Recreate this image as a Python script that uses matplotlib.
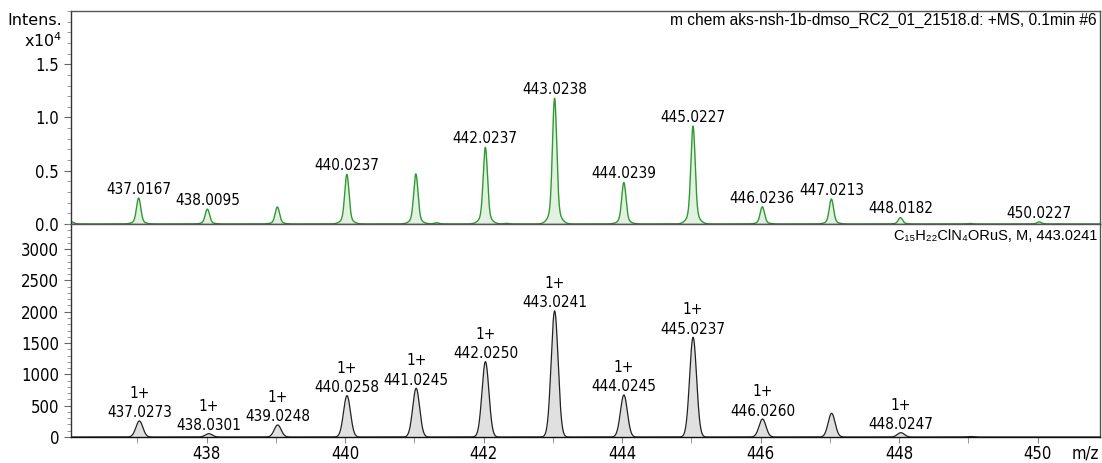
import numpy as np
import matplotlib
matplotlib.use("Agg")
import matplotlib.pyplot as plt
from matplotlib.ticker import MultipleLocator

## data ##

# measured spectrum (top, intensity in units of 1e4)
ms_mz = [436.05, 437.0167, 438.0095, 439.02, 440.0237, 441.02, 441.32, 442.0237,
         442.33, 443.0238, 444.0239, 445.0227, 446.0236, 447.0213, 448.0182,
         449.02, 450.0227]
ms_int = [0.02, 0.244, 0.14, 0.16, 0.466, 0.47, 0.012, 0.72,
          0.006, 1.18, 0.39, 0.92, 0.162, 0.234, 0.06,
          0.005, 0.02]
ms_labels = {437.0167: "437.0167", 438.0095: "438.0095", 440.0237: "440.0237",
             442.0237: "442.0237", 443.0238: "443.0238", 444.0239: "444.0239",
             445.0227: "445.0227", 446.0236: "446.0236", 447.0213: "447.0213",
             448.0182: "448.0182", 450.0227: "450.0227"}

# simulated isotope pattern (bottom)
sim_mz = [437.0273, 438.0301, 439.0248, 440.0258, 441.0245, 442.0250, 443.0241,
          444.0245, 445.0237, 446.0260, 447.0245, 448.0247, 449.02]
sim_int = [256, 53, 192, 660, 778, 1203, 2013, 671, 1592, 287, 378, 69, 8]
sim_labels = ["437.0273", "438.0301", "439.0248", "440.0258", "441.0245", "442.0250",
              "443.0241", "444.0245", "445.0237", "446.0260", None, "448.0247", None]

title_top = "m chem aks-nsh-1b-dmso_RC2_01_21518.d: +MS, 0.1min #6"
title_bot = "C\u2081\u2085H\u2082\u2082ClN\u2084ORuS, M, 443.0241"

xmin, xmax = 436.04, 450.9
x = np.arange(xmin, xmax, 0.002)

def profile(centers, heights, sig, tail=0.0, tsig=0.1):
    y = np.zeros_like(x)
    for c, h in zip(centers, heights):
        d = (x - c) ** 2
        y += h * ((1 - tail) * np.exp(-d / (2 * sig ** 2)) + tail * np.exp(-d / (2 * tsig ** 2)))
    return y

y_top = profile(ms_mz, ms_int, 0.03, tail=0.12, tsig=0.075)
y_bot = profile(sim_mz, sim_int, 0.05)

tickfont = dict(family=["DejaVu Sans"], stretch="condensed", size=12)
labfont = dict(family=["DejaVu Sans"], stretch="condensed", size=11)
edge = "#555555"

fig = plt.figure(figsize=(11.02, 4.63), dpi=100)
ax1 = fig.add_axes([71 / 1102, 1 - 224 / 463, 1029 / 1102, 213 / 463])
ax2 = fig.add_axes([71 / 1102, 1 - 437 / 463, 1029 / 1102, 213 / 463])

for ax in (ax1, ax2):
    ax.set_xlim(xmin, xmax)
    for s in ax.spines.values():
        s.set_color(edge)
        s.set_linewidth(1.0)
    ax.spines["bottom"].set_color("#111111")
    ax.spines["left"].set_color("#333333")
    ax.tick_params(axis="y", which="major", length=5, color="#666666", labelsize=12)
    ax.tick_params(axis="y", which="minor", length=3, color="#888888")

# top panel: measured
ax1.fill_between(x, 0, y_top, color="#e2f1e2", lw=0)
ax1.plot(x, y_top, color="#2f9a2f", lw=1.0)
ax1.set_ylim(0, 2.0)
ax1.set_yticks([0.0, 0.5, 1.0, 1.5])
ax1.set_yticklabels(["0.0", "0.5", "1.0", "1.5"], fontdict=tickfont)
ax1.yaxis.set_minor_locator(MultipleLocator(0.1))
ax1.set_xticks([])
for c, txt in ms_labels.items():
    h = ms_int[ms_mz.index(c)]
    ax1.annotate(txt, (c, h), xytext=(0, 3), textcoords="offset points",
                 ha="center", va="baseline", **labfont)
ax1.text(0.997, 0.993, title_top, transform=ax1.transAxes, ha="right", va="top",
         family=["Liberation Sans", "DejaVu Sans"], size=11.2)
fig.text(62 / 1102, 1 - 25 / 463, "Intens.", ha="right", va="baseline",
         family="DejaVu Sans", size=11.5)
fig.text(62 / 1102, 1 - 47 / 463, "x10$^4$", ha="right", va="baseline",
         family="DejaVu Sans", size=11.5)

# bottom panel: simulated
ax2.fill_between(x, 0, y_bot, color="#e0e0e0", lw=0)
ax2.plot(x, y_bot, color="#222222", lw=0.9)
ax2.set_ylim(0, 3400)
ax2.set_yticks(np.arange(0, 3001, 500))
ax2.set_yticklabels([str(v) for v in range(0, 3001, 500)], fontdict=tickfont)
ax2.yaxis.set_minor_locator(MultipleLocator(100))
ax2.set_xticks(np.arange(438, 451, 2))
ax2.set_xticklabels([str(v) for v in range(438, 451, 2)], fontdict=tickfont)
ax2.xaxis.set_minor_locator(MultipleLocator(1))
ax2.tick_params(axis="x", which="both", length=4, color="#888888", pad=2)
for c, h, txt in zip(sim_mz, sim_int, sim_labels):
    if txt is None:
        continue
    ax2.annotate(txt, (c, h), xytext=(0, 2.5), textcoords="offset points",
                 ha="center", va="baseline", **labfont)
    ax2.annotate("1+", (c, h), xytext=(0, 16.5), textcoords="offset points",
                 ha="center", va="baseline", **labfont)
ax2.text(0.997, 0.975, title_bot, transform=ax2.transAxes, ha="right", va="top",
         family=["Liberation Sans", "DejaVu Sans"], size=10.5)
fig.text(1085 / 1102, 1 - 458 / 463, "m/z", ha="center", va="baseline", **tickfont)

fig.savefig("out.png", dpi=100)
